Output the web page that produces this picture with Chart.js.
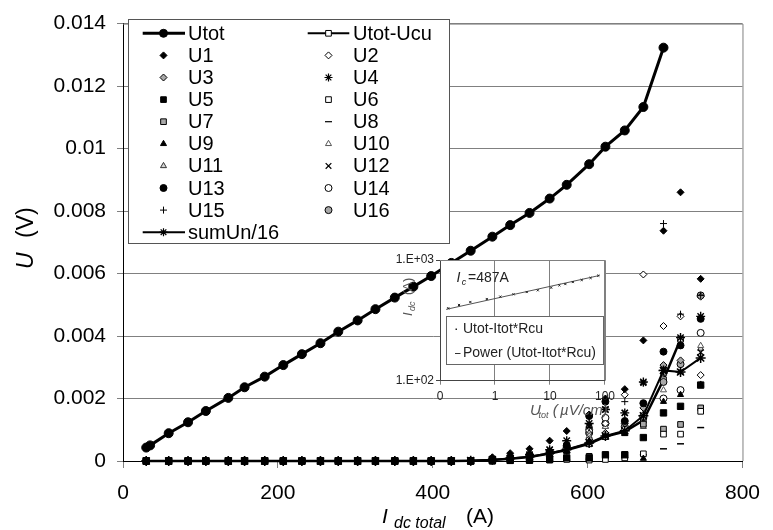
<!DOCTYPE html>
<html>
<head>
<meta charset="UTF-8">
<title>U vs Idc total</title>
<script src="https://cdn.jsdelivr.net/npm/chart.js"></script>
<style>
  body { margin: 0; background: #fff; }
  #wrap { position: relative; width: 773px; height: 530px; }
  #main { position: absolute; left: 0; top: 0; }
  #inset { position: absolute; left: 380px; top: 248px; }
</style>
</head>
<body>
<div id="wrap">
  <canvas id="main" width="773" height="530"></canvas>
  <canvas id="inset" width="240" height="180"></canvas>
</div>
<script>
// currents (A)
const xUtot = [30, 35, 59, 84, 107, 136, 157, 183, 207, 231, 255, 278, 303, 326, 351, 375, 398, 424, 449, 477, 500, 525, 551, 573, 602, 623, 648, 672, 698];
const xs = [30, 59, 84, 107, 136, 157, 183, 207, 231, 255, 278, 303, 326, 351, 375, 398, 424, 449, 477, 500, 525, 551, 573, 602, 623, 648, 672, 698, 720, 746];

// voltages (V)
const utot = [0.00043, 0.0005, 0.00089, 0.00124, 0.0016, 0.00202, 0.00236, 0.0027, 0.00307, 0.00342, 0.00377, 0.00414, 0.0045, 0.00486, 0.00523, 0.00558, 0.00592, 0.00634, 0.00673, 0.00718, 0.00755, 0.00794, 0.0084, 0.00884, 0.0095, 0.01006, 0.01058, 0.01133, 0.01323];
const utotUcu = [0, 0, 0, 0, 0, 0, 0, 0, 0, 0, 0, 0, 0, 0, 0, 0, 0, 0.00001, 0.00003, 0.00007, 0.00013, 0.00024, 0.00035, 0.00055, 0.00078, 0.00094, 0.0013, 0.0026, 0.0039, null];
const sumUn16 = [0, 0, 0, 0, 0, 0, 0, 0, 0, 0, 0, 0, 0, 0, 0, 0, 0, 0.00001, 0.00004, 0.00008, 0.00014, 0.00025, 0.00037, 0.00058, 0.0008, 0.00097, 0.00145, 0.0029, 0.00285, 0.0033];

const u1  = [0, 0, 0, 0, 0, 0, 0, 0, 0, 0, 0, 0, 0, 0, 0, 0, 0, 0, 0.00012, 0.00025, 0.00039, 0.00065, 0.00096, 0.00149, 0.002, 0.0023, 0.00386, 0.00737, 0.0086, 0.00583];
const u2  = [0, 0, 0, 0, 0, 0, 0, 0, 0, 0, 0, 0, 0, 0, 0, 0, 0, 0, 0.00004, 0.00008, 0.00015, 0.00025, 0.0004, 0.0007, 0.0012, 0.00212, 0.00597, 0.00432, 0.00463, 0.00275];
const u3  = [0, 0, 0, 0, 0, 0, 0, 0, 0, 0, 0, 0, 0, 0, 0, 0, 0, 0, 0.00003, 0.00006, 0.00012, 0.0002, 0.00035, 0.0006, 0.0009, 0.0012, 0.0017, 0.00307, 0.00322, 0.00526];
const u4  = [0, 0, 0, 0, 0, 0, 0, 0, 0, 0, 0, 0, 0, 0, 0, 0, 0, 0, 0.00006, 0.0001, 0.0002, 0.00036, 0.00065, 0.0012, 0.00165, 0.00154, 0.00253, 0.0029, 0.00395, 0.00463];
const u5  = [0, 0, 0, 0, 0, 0, 0, 0, 0, 0, 0, 0, 0, 0, 0, 0, 0, 0, 0.00001, 0.00002, 0.00003, 0.00005, 0.0001, 0.0001, 0.0002, 0.0002, 0.00075, 0.00154, 0.00175, 0.00243];
const u6  = [0, 0, 0, 0, 0, 0, 0, 0, 0, 0, 0, 0, 0, 0, 0, 0, 0, 0, 0, 0.00001, 0.00002, 0.00003, 0.00005, 0.00003, 0.00005, 0.0001, 0.00023, 0.00086, 0.00086, 0.00159];
const u7  = [0, 0, 0, 0, 0, 0, 0, 0, 0, 0, 0, 0, 0, 0, 0, 0, 0, 0, 0, 0.00001, 0.00002, 0.00004, 0.00008, 0.00015, 0.00018, 0.0002, 0.00118, 0.00102, 0.00117, 0.0017];
const u8  = [0, 0, 0, 0, 0, 0, 0, 0, 0, 0, 0, 0, 0, 0, 0, 0, 0, 0, 0, 0, 0.00001, 0.00002, 0.00003, 0.00005, 0.00008, 0.0001, 0.0002, 0.00039, 0.00055, 0.00107];
const u9  = [0, 0, 0, 0, 0, 0, 0, 0, 0, 0, 0, 0, 0, 0, 0, 0, 0, 0, 0.00002, 0.00004, 0.00008, 0.00015, 0.0003, 0.00065, 0.0008, 0.00087, 0.00008, 0.0019, 0.00212, 0.00245];
const u10 = [0, 0, 0, 0, 0, 0, 0, 0, 0, 0, 0, 0, 0, 0, 0, 0, 0, 0, 0.00003, 0.00006, 0.0001, 0.0002, 0.0004, 0.0008, 0.0011, 0.00087, 0.00118, 0.00227, 0.00285, 0.00369];
const u11 = [0, 0, 0, 0, 0, 0, 0, 0, 0, 0, 0, 0, 0, 0, 0, 0, 0, 0, 0.00003, 0.00005, 0.0001, 0.00018, 0.00035, 0.0009, 0.0011, 0.0009, 0.0011, 0.0028, 0.00285, 0.0036];
const u12 = [0, 0, 0, 0, 0, 0, 0, 0, 0, 0, 0, 0, 0, 0, 0, 0, 0, 0, 0.00005, 0.0001, 0.00018, 0.00036, 0.0005, 0.0011, 0.00165, 0.00154, 0.0025, 0.0029, 0.00285, 0.00348];
const u13 = [0, 0, 0, 0, 0, 0, 0, 0, 0, 0, 0, 0, 0, 0, 0, 0, 0, 0, 0.00005, 0.0001, 0.0002, 0.0003, 0.0005, 0.00144, 0.0019, 0.00128, 0.00185, 0.0035, 0.0037, 0.00455];
const u14 = [0, 0, 0, 0, 0, 0, 0, 0, 0, 0, 0, 0, 0, 0, 0, 0, 0, 0, 0.00004, 0.00008, 0.00015, 0.00025, 0.00044, 0.001, 0.00138, 0.001, 0.00144, 0.002, 0.00227, 0.0041];
const u15 = [0, 0, 0, 0, 0, 0, 0, 0, 0, 0, 0, 0, 0, 0, 0, 0, 0, 0, 0.00005, 0.0001, 0.0002, 0.0003, 0.0005, 0.00107, 0.0017, 0.0019, 0.0025, 0.0076, 0.0047, 0.0053];
const u16 = [0, 0, 0, 0, 0, 0, 0, 0, 0, 0, 0, 0, 0, 0, 0, 0, 0, 0, 0.00004, 0.00008, 0.00015, 0.00025, 0.0004, 0.0009, 0.0012, 0.0011, 0.0014, 0.00253, 0.0031, 0.0053];

// inset: Utot (uV/cm) vs Idc (A), log-log
const insetU = [0.141, 0.222, 0.356, 0.71, 1.25, 2.17, 3.78, 6.0, 10.5, 14.8, 19, 26, 37.8, 54.8, 75.5];
const insetI = [398, 424, 449, 475, 497, 520, 543, 561, 590, 617, 632, 657, 683, 710, 742];
const fitU = [0.13, 80];
const fitI = [390, 745];

const yTicks = ['0', '0.002', '0.004', '0.006', '0.008', '0.01', '0.012', '0.014'];

const FONT = '"Liberation Sans", Arial, sans-serif';
Chart.defaults.font.family = FONT;
Chart.defaults.color = '#000';

const black = '#000', grey = '#a8a8a8', white = '#fff';

function pts(xv, yv) {
  return xv.map((x, i) => ({ x: x, y: yv[i] })).filter(p => p.y !== null);
}

function markers(label, yv, style, fill, border, r, bw) {
  return {
    label: label, data: pts(xs, yv), showLine: false,
    pointStyle: style, pointRadius: r || 3.5,
    pointBackgroundColor: fill, pointBorderColor: border || black,
    pointBorderWidth: bw || 1, borderColor: border || black, borderWidth: 1
  };
}

const datasets = [
  { label: 'Utot', data: pts(xUtot, utot), showLine: true, borderColor: black, borderWidth: 3,
    pointStyle: 'circle', pointRadius: 4.5, pointBackgroundColor: black, pointBorderColor: black, pointBorderWidth: 1 },
  { label: 'Utot-Ucu', data: pts(xs, utotUcu), showLine: true, borderColor: black, borderWidth: 2.5,
    pointStyle: 'rect', pointRadius: 4, pointBackgroundColor: white, pointBorderColor: black, pointBorderWidth: 1 },
  markers('U1', u1, 'rectRot', black),
  markers('U2', u2, 'rectRot', white),
  markers('U3', u3, 'rectRot', grey),
  markers('U4', u4, 'star', black, black, 4.5, 1.4),
  markers('U5', u5, 'rect', black, black, 4.5),
  markers('U6', u6, 'rect', white, black, 4),
  markers('U7', u7, 'rect', grey, black, 4),
  markers('U8', u8, 'line', black, black, 3.5, 1.5),
  markers('U9', u9, 'triangle', black),
  markers('U10', u10, 'triangle', white, '#555'),
  markers('U11', u11, 'triangle', '#d4d4d4', '#333'),
  markers('U12', u12, 'crossRot', black, black, 4, 1.3),
  markers('U13', u13, 'circle', black),
  markers('U14', u14, 'circle', white),
  markers('U15', u15, 'cross', black),
  markers('U16', u16, 'circle', grey),
  { label: 'sumUn/16', data: pts(xs, sumUn16), showLine: true, borderColor: black, borderWidth: 2,
    pointStyle: 'star', pointRadius: 5, pointBackgroundColor: black, pointBorderColor: black, pointBorderWidth: 1.5 }
];

// drawing order (lower = on top); dark markers end up on top of the zero row
const drawOrder = { 'Utot': 0, 'sumUn/16': 1, 'U4': 2, 'U5': 3, 'U12': 4, 'U1': 5, 'U13': 6, 'U9': 7, 'U15': 8, 'Utot-Ucu': 30 };
datasets.forEach((d, i) => {
  d.clip = false;
  d.order = d.label in drawOrder ? drawOrder[d.label] : 10 + i;
});

function drawMarker(ctx, ds, x, y) {
  ctx.save();
  ctx.fillStyle = ds.pointBackgroundColor;
  ctx.strokeStyle = ds.pointBorderColor;
  ctx.lineWidth = Math.min(ds.pointBorderWidth, 1.2);
  Chart.helpers.drawPoint(ctx, { pointStyle: ds.pointStyle, radius: Math.min(ds.pointRadius, 4), borderWidth: ds.pointBorderWidth, rotation: 0 }, x, y);
  ctx.restore();
}

// legend, axis titles and plot border of the main chart
const mainDeco = {
  id: 'mainDeco',
  afterDraw(chart) {
    const ctx = chart.ctx, a = chart.chartArea;
    ctx.save();
    ctx.strokeStyle = '#808080';
    ctx.lineWidth = 1;
    ctx.beginPath();
    ctx.moveTo(a.left, a.top + 0.5);
    ctx.lineTo(a.right + 0.5, a.top + 0.5);
    ctx.lineTo(a.right + 0.5, a.bottom);
    ctx.stroke();

    // axis titles
    ctx.fillStyle = '#000';
    ctx.textAlign = 'left';
    ctx.textBaseline = 'alphabetic';
    ctx.font = 'italic 21px ' + FONT;
    ctx.fillText('I', 382, 523);
    ctx.font = 'italic 16px ' + FONT;
    ctx.fillText('dc total', 394, 528);
    ctx.font = '21px ' + FONT;
    ctx.fillText('(A)', 466, 523);

    ctx.save();
    ctx.translate(33, 269);
    ctx.rotate(-Math.PI / 2);
    ctx.font = 'italic 23px ' + FONT;
    ctx.fillText('U', 0, 0);
    ctx.font = '23px ' + FONT;
    ctx.fillText('(V)', 31, 0);
    ctx.restore();

    // legend box
    ctx.fillStyle = '#fff';
    ctx.fillRect(128.5, 19.5, 321, 224);
    ctx.strokeStyle = '#555';
    ctx.strokeRect(128.5, 19.5, 321, 224);
    const colMark = [163.5, 328.5], colText = [188, 353];
    const colLine = [[142.7, 185], [307.7, 349.3]];
    ctx.font = '20px ' + FONT;
    ctx.textBaseline = 'middle';
    chart.data.datasets.forEach((ds, i) => {
      const row = Math.floor(i / 2), col = i % 2;
      const y = 33.3 + row * 22.1;
      if (ds.showLine) {
        ctx.strokeStyle = ds.borderColor;
        ctx.lineWidth = ds.label === 'Utot' ? 3 : 2;
        ctx.beginPath();
        ctx.moveTo(colLine[col][0], y);
        ctx.lineTo(colLine[col][1], y);
        ctx.stroke();
      }
      drawMarker(ctx, ds, colMark[col], y);
      ctx.fillStyle = '#000';
      ctx.fillText(ds.label, colText[col], y + 1);
    });
    ctx.restore();
  }
};

new Chart(document.getElementById('main'), {
  type: 'scatter',
  data: { datasets: datasets },
  options: {
    responsive: false,
    animation: false,
    events: [],
    layout: { padding: { top: 15, right: 20.5, left: 0, bottom: 0 } },
    plugins: { legend: { display: false }, tooltip: { enabled: false } },
    scales: {
      x: {
        type: 'linear', min: 0, max: 800,
        ticks: { stepSize: 200, font: { size: 21 }, color: '#000', padding: 13, maxRotation: 0 },
        grid: { drawOnChartArea: false, tickLength: 7, color: '#808080' },
        border: { color: '#000' },
        afterFit: s => { s.height = 69; }
      },
      y: {
        min: 0, max: 0.014,
        ticks: { stepSize: 0.002, font: { size: 21 }, color: '#000', padding: 11,
          callback: (v, i) => yTicks[i] },
        grid: { color: '#808080', tickLength: 6 },
        border: { color: '#000' },
        afterFit: s => { s.width = 123; }
      }
    }
  },
  plugins: [mainDeco]
});

// inset chart
const insetDeco = {
  id: 'insetDeco',
  beforeDraw(chart) {
    const a = chart.chartArea, ctx = chart.ctx;
    ctx.save();
    ctx.fillStyle = '#fff';
    ctx.fillRect(a.left, a.top, a.right - a.left, a.bottom - a.top);
    ctx.restore();
  },
  afterDraw(chart) {
    const a = chart.chartArea, ctx = chart.ctx;
    ctx.save();
    ctx.strokeStyle = '#808080';
    ctx.lineWidth = 1;
    ctx.beginPath();
    ctx.moveTo(a.left, a.top + 0.5);
    ctx.lineTo(a.right + 0.5, a.top + 0.5);
    ctx.lineTo(a.right + 0.5, a.bottom);
    ctx.stroke();

    ctx.textAlign = 'left';
    ctx.textBaseline = 'alphabetic';
    // Ic label
    ctx.fillStyle = '#222';
    ctx.font = 'italic 14px ' + FONT;
    ctx.fillText('I', 76.5, 33.7);
    ctx.font = 'italic 9px ' + FONT;
    ctx.fillText('c', 81.7, 36.5);
    ctx.font = '14px ' + FONT;
    ctx.fillText('=487A', 88, 33.7);

    // x title
    ctx.fillStyle = '#555';
    ctx.font = 'italic 15px ' + FONT;
    ctx.fillText('U', 150, 167);
    ctx.font = 'italic 9px ' + FONT;
    ctx.fillText('tot', 158.5, 170);
    ctx.font = 'italic 15px ' + FONT;
    ctx.fillText('(', 172.7, 167);
    ctx.fillText('\u00b5V/cm)', 180, 167);

    // y title
    ctx.save();
    ctx.translate(32, 68);
    ctx.rotate(-Math.PI / 2);
    ctx.font = 'italic 13px ' + FONT;
    ctx.fillText('I', 0, 0);
    ctx.font = 'italic 9px ' + FONT;
    ctx.fillText('dc', 5, 3);
    ctx.font = '13px ' + FONT;
    ctx.fillText('(A)', 21, 0);
    ctx.restore();

    // legend
    ctx.fillStyle = '#fff';
    ctx.fillRect(66.5, 68.5, 157, 48);
    ctx.strokeStyle = '#666';
    ctx.strokeRect(66.5, 68.5, 157, 48);
    ctx.fillStyle = '#222';
    ctx.fillRect(75.5, 80.5, 1.5, 1.5);
    ctx.strokeStyle = '#333';
    ctx.beginPath();
    ctx.moveTo(75, 105.5);
    ctx.lineTo(80.5, 105.5);
    ctx.stroke();
    ctx.font = '14px ' + FONT;
    ctx.textBaseline = 'middle';
    ctx.fillText('Utot-Itot*Rcu', 83, 81.3);
    ctx.fillText('Power (Utot-Itot*Rcu)', 83, 105.3);
    ctx.restore();
  }
};

new Chart(document.getElementById('inset'), {
  type: 'scatter',
  data: {
    datasets: [
      { label: 'Utot-Itot*Rcu', data: pts(insetU, insetI), showLine: false,
        pointStyle: 'crossRot', pointRadius: 1.5, pointBorderColor: '#222', pointBorderWidth: 1 },
      { label: 'Power (Utot-Itot*Rcu)', data: pts(fitU, fitI), showLine: true,
        borderColor: '#555', borderWidth: 1, pointRadius: 0 }
    ]
  },
  options: {
    responsive: false,
    animation: false,
    events: [],
    layout: { padding: { top: 12, right: 13, left: 0, bottom: 0 } },
    plugins: { legend: { display: false }, tooltip: { enabled: false } },
    scales: {
      x: {
        type: 'logarithmic', min: 0.1, max: 100,
        afterBuildTicks: s => { s.ticks = [0.1, 1, 10, 100].map(v => ({ value: v })); },
        ticks: { font: { size: 12 }, color: '#222', padding: 5, maxRotation: 0, autoSkip: false,
          callback: v => (v < 1 ? '0' : String(v)) },
        grid: { color: '#808080', tickLength: 4 },
        border: { color: '#444' },
        afterFit: s => { s.height = 47.3; }
      },
      y: {
        type: 'logarithmic', min: 100, max: 1000,
        afterBuildTicks: s => { s.ticks = [100, 1000].map(v => ({ value: v })); },
        ticks: { font: { size: 12 }, color: '#222', padding: 2, autoSkip: false,
          callback: v => (v >= 1000 ? '1.E+03' : '1.E+02') },
        grid: { drawOnChartArea: false, tickLength: 4, color: '#444' },
        border: { color: '#444' },
        afterFit: s => { s.width = 60; }
      }
    }
  },
  plugins: [insetDeco]
});
</script>
</body>
</html>
